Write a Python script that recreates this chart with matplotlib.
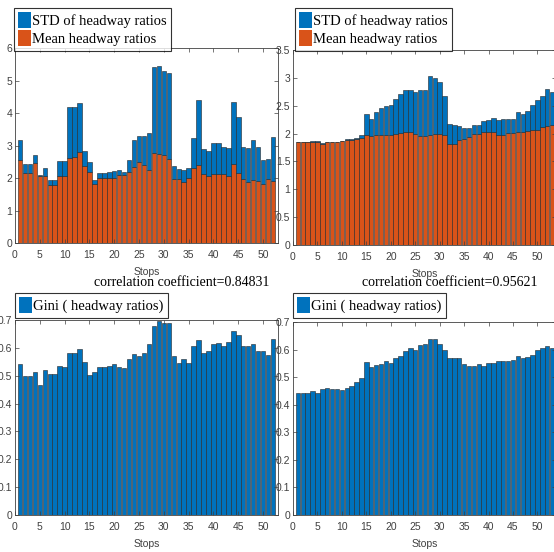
# Headway ratio bars: STD/mean stacked on top, Gini below, two routes side by side.

import numpy as np
import matplotlib
matplotlib.use("Agg")
import matplotlib.pyplot as plt
from matplotlib.patches import Patch

# ---- data ----
# left route, 52 stops
mean_left = [2.55, 2.15, 2.16, 2.45, 2.05, 2.06, 1.78, 1.78, 2.05, 2.05,
             2.62, 2.64, 2.80, 2.38, 2.20, 1.82, 2.00, 2.00, 2.00, 2.00,
             2.08, 2.08, 2.20, 2.35, 2.48, 2.40, 2.26, 2.78, 2.75, 2.70,
             2.58, 1.98, 1.98, 1.88, 2.00, 2.32, 2.41, 2.12, 2.06, 2.12,
             2.12, 2.13, 2.06, 2.43, 2.16, 1.96, 1.88, 1.95, 1.91, 1.83,
             1.96, 1.90]
total_left = [3.16, 2.43, 2.43, 2.71, 2.08, 2.31, 1.95, 1.95, 2.53, 2.53,
              4.17, 4.17, 4.32, 2.83, 2.48, 1.95, 2.16, 2.16, 2.18, 2.22,
              2.25, 2.18, 2.55, 3.18, 3.30, 3.30, 3.37, 5.42, 5.45, 5.30,
              5.23, 2.38, 2.28, 2.25, 2.32, 3.22, 4.41, 2.89, 2.83, 3.08,
              3.08, 2.94, 2.91, 4.35, 3.87, 2.95, 2.93, 3.18, 2.96, 2.54,
              2.60, 3.25]
gini_left = [0.543, 0.500, 0.500, 0.513, 0.467, 0.519, 0.505, 0.505, 0.535, 0.533,
             0.581, 0.581, 0.595, 0.551, 0.502, 0.515, 0.531, 0.533, 0.535, 0.541,
             0.533, 0.526, 0.560, 0.578, 0.569, 0.581, 0.614, 0.677, 0.698, 0.689,
             0.689, 0.571, 0.547, 0.560, 0.545, 0.605, 0.629, 0.583, 0.590, 0.614,
             0.619, 0.605, 0.622, 0.662, 0.645, 0.608, 0.605, 0.614, 0.587, 0.587,
             0.575, 0.632]

# right route, 53 stops
mean_right = [1.84, 1.84, 1.84, 1.855, 1.855, 1.82, 1.84, 1.84, 1.84, 1.86,
              1.89, 1.89, 1.91, 1.92, 1.98, 1.96, 1.97, 1.97, 1.97, 1.98,
              1.99, 2.01, 2.03, 2.03, 1.99, 1.95, 1.96, 1.98, 1.99, 1.99,
              1.98, 1.82, 1.82, 1.88, 1.91, 1.93, 1.99, 1.99, 2.02, 2.03,
              2.03, 1.97, 1.98, 2.01, 2.01, 2.02, 2.02, 2.05, 2.06, 2.07,
              2.11, 2.13, 2.15]
total_right = [1.845, 1.845, 1.845, 1.86, 1.86, 1.825, 1.845, 1.845, 1.845, 1.865,
               1.895, 1.895, 1.92, 1.97, 2.35, 2.26, 2.39, 2.45, 2.50, 2.52,
               2.62, 2.71, 2.78, 2.79, 2.75, 2.78, 2.79, 3.03, 2.99, 2.93,
               2.67, 2.18, 2.16, 2.14, 2.10, 2.10, 2.16, 2.16, 2.22, 2.24,
               2.28, 2.25, 2.26, 2.26, 2.26, 2.38, 2.36, 2.41, 2.52, 2.61,
               2.67, 2.80, 2.75]
gini_right = [0.442, 0.442, 0.444, 0.448, 0.444, 0.457, 0.460, 0.457, 0.457, 0.454,
              0.460, 0.468, 0.484, 0.496, 0.556, 0.535, 0.544, 0.546, 0.559, 0.552,
              0.568, 0.576, 0.594, 0.604, 0.598, 0.616, 0.622, 0.637, 0.637, 0.619,
              0.598, 0.571, 0.571, 0.568, 0.546, 0.540, 0.540, 0.547, 0.540, 0.550,
              0.552, 0.559, 0.559, 0.559, 0.562, 0.576, 0.571, 0.574, 0.582, 0.598,
              0.604, 0.612, 0.604]

corr_left = "correlation coefficient=0.84831"
corr_right = "correlation coefficient=0.95621"

blue = "#0072BD"
orange = "#D95319"
edge = "#262626"
serif = ["Liberation Serif", "DejaVu Serif"]
tickfont = ["Liberation Sans Narrow", "Liberation Sans", "DejaVu Sans"]

W, H = 554, 552
fig = plt.figure(figsize=(W / 100, H / 100), dpi=100)


def px_axes(left, top, right, bottom):
    # axes placed by pixel box of the reference
    return fig.add_axes([left / W, 1 - bottom / H, (right - left) / W, (bottom - top) / H])


def style(ax, xmax, ymax, ystep):
    ax.set_xlim(0, xmax)
    ax.set_ylim(0, ymax)
    ax.set_xticks(np.arange(0, 51, 5))
    ax.set_yticks(np.arange(0, ymax + ystep / 2, ystep))
    ax.yaxis.set_major_formatter(matplotlib.ticker.FormatStrFormatter("%g"))
    ax.tick_params(direction="in", length=3, width=0.5, top=True, right=True,
                   labelsize=7.5, colors="#404040")
    ax.tick_params(axis="x", pad=5)
    ax.tick_params(axis="y", pad=2)
    for lab in ax.get_xticklabels() + ax.get_yticklabels():
        lab.set_family(tickfont)
    for s in ax.spines.values():
        s.set_linewidth(0.6)
        s.set_color("#404040")
    ax.set_xlabel("Stops", fontsize=7.5, family=tickfont, color="#404040", labelpad=5)


def stacked(ax, mean, total):
    x = np.arange(1, len(mean) + 1)
    std = np.array(total) - np.array(mean)
    ax.bar(x, mean, width=0.9, color=orange, edgecolor=edge, linewidth=0.4)
    ax.bar(x, std, bottom=mean, width=0.9, color=blue, edgecolor=edge, linewidth=0.4)


def gini(ax, vals):
    x = np.arange(1, len(vals) + 1)
    ax.bar(x, vals, width=0.9, color=blue, edgecolor=edge, linewidth=0.4)


def legend(labels, colors, left, top, spacing):
    handles = [Patch(facecolor=c, edgecolor="none") for c in colors]
    lg = fig.legend(handles, labels, loc="upper left",
                    bbox_to_anchor=(left / W, 1 - top / H),
                    prop={"family": serif, "size": 10.5},
                    frameon=True, fancybox=False, edgecolor="black",
                    handlelength=0.85, handleheight=1.3, handletextpad=0.1,
                    borderpad=0.3, labelspacing=spacing, borderaxespad=0)
    lg.get_frame().set_linewidth(0.8)
    lg.set_zorder(10)


ax1 = px_axes(15, 48, 278, 243)
stacked(ax1, mean_left, total_left)
style(ax1, 53, 6, 1)

ax2 = px_axes(293, 50, 556, 245)
stacked(ax2, mean_right, total_right)
style(ax2, 53.8, 3.5, 0.5)

ax3 = px_axes(15, 320, 278, 515)
gini(ax3, gini_left)
style(ax3, 53, 0.7, 0.1)

ax4 = px_axes(293, 322, 556, 515)
gini(ax4, gini_right)
style(ax4, 53.8, 0.7, 0.1)

legend(["STD of headway ratios", "Mean headway ratios"], [blue, orange], 14, 8, 0.15)
legend(["STD of headway ratios", "Mean headway ratios"], [blue, orange], 295, 8, 0.15)
legend(["Gini ( headway ratios)"], [blue], 15, 293, 0.15)
legend(["Gini ( headway ratios)"], [blue], 293, 293, 0.15)

fig.text(182 / W, 1 - 282 / H, corr_left, ha="center", va="center",
         family=serif, fontsize=10)
fig.text(450 / W, 1 - 282 / H, corr_right, ha="center", va="center",
         family=serif, fontsize=10)

fig.savefig("out.png", dpi=100)
